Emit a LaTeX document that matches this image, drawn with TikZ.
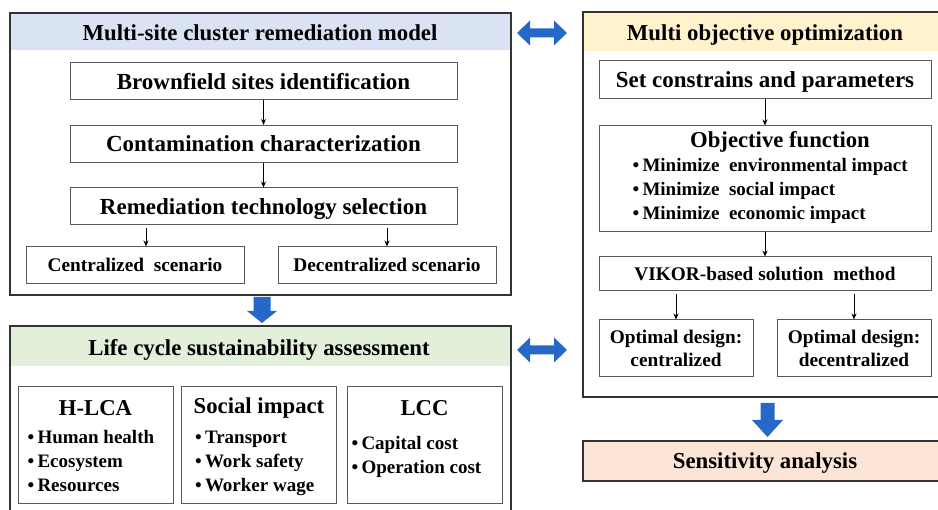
\documentclass[tikz,border=0pt]{standalone}
\usepackage{fontspec}
\setmainfont{Liberation Serif}
\usetikzlibrary{positioning, calc, arrows.meta}
\definecolor{bandblue}{RGB}{218,227,243}
\definecolor{bandorange}{RGB}{255,242,204}
\definecolor{bandgreen}{RGB}{226,239,218}
\definecolor{bandpeach}{RGB}{252,228,214}
\definecolor{arrowblue}{RGB}{38,104,200}

\begin{document}
\begin{tikzpicture}[x=1pt, y=-1pt,
    outer/.style={draw=black!80, line width=1.5pt},
    stepbox/.style={draw=black!65, line width=1pt, fill=white, inner sep=0pt,
        font=\bfseries\fontsize{23}{25}\selectfont, text height=18pt, text depth=2pt},
    smallbox/.style={draw=black!65, line width=1pt, fill=white, inner sep=0pt,
        font=\bfseries\fontsize{19.3}{23}\selectfont},
    oneline/.style={text height=15pt, text depth=2pt},
    headtext/.style={font=\bfseries\fontsize{22.8}{25}\selectfont, text height=18pt, text depth=2pt},
    subhead/.style={font=\bfseries\fontsize{22.7}{25}\selectfont, inner sep=0pt},
    bullets/.style={font=\bfseries\fontsize{19}{24}\selectfont, align=left, inner sep=0pt},
    arr/.style={-{Stealth[length=6pt,width=5pt]}, line width=0.8pt},
    blockarrow/.style={fill=arrowblue}]
    \useasboundingbox (0,0) rectangle (938,510);

    % Multi-site cluster remediation model
    \fill[bandblue] (10,13) rectangle (511,50);
    \draw[outer] (10,13) rectangle (511,295);
    \node[headtext] (modtitle) at (260,33) {Multi-site cluster remediation model};
    \node[stepbox, minimum width=387, minimum height=37] (brown) at (263.5,81.5) {Brownfield sites identification};
    \node[stepbox, minimum width=387, minimum height=37] (contam) at (263.5,144) {Contamination characterization};
    \node[stepbox, minimum width=387, minimum height=37] (tech) at (263.5,206.5) {Remediation technology selection};
    \node[smallbox, oneline, minimum width=218, minimum height=37] (cent) at (135,265.5) {Centralized\ \ scenario};
    \node[smallbox, oneline, minimum width=218, minimum height=37] (decent) at (387,265.5) {Decentralized scenario};
    \draw[arr] (brown) -- (contam);
    \draw[arr] (contam) -- (tech);
    \draw[arr] ([xshift=11pt,yshift=-3pt]tech.south -| cent.north) -- ([xshift=11pt]cent.north);
    \draw[arr] ([yshift=-3pt]tech.south -| decent.north) -- (decent.north);

    % Multi objective optimization
    \fill[bandorange] (583,12) rectangle (945,51);
    \draw[outer] (583,12) rectangle (945,397);
    \node[headtext] (opttitle) at (765,33) {Multi objective optimization};
    \node[stepbox, minimum width=332, minimum height=38] (cons) at (765,80) {Set constrains and parameters};
    \node[smallbox, minimum width=332, minimum height=106] (obj) at (765,179) {};
    \node[subhead, below=6pt of obj.north, xshift=15pt] (objtitle) {Objective function};
    \node[bullets, anchor=north west] (objlist) at ([xshift=34pt,yshift=-33pt]obj.north west)
        {\textbullet\,Minimize\ \ environmental impact\\ \textbullet\,Minimize\ \ social impact\\ \textbullet\,Minimize\ \ economic impact};
    \node[smallbox, oneline, minimum width=332, minimum height=34] (vikor) at (765,274) {VIKOR-based solution\ \ method};
    \node[smallbox, minimum width=154, minimum height=57, align=center] (optc) at (676,348.5) {Optimal design:\\centralized};
    \node[smallbox, minimum width=154, minimum height=57, align=center] (optd) at (854,348.5) {Optimal design:\\decentralized};
    \draw[arr] (cons) -- (obj);
    \draw[arr] (obj) -- (vikor);
    \draw[arr] ([yshift=-3pt]vikor.south -| optc.north) -- (optc.north);
    \draw[arr] ([yshift=-3pt]vikor.south -| optd.north) -- (optd.north);

    % Sensitivity analysis
    \node[draw=black!80, line width=1.5pt, fill=bandpeach, minimum width=362, minimum height=40,
        inner sep=0pt] (sens) at (764,461) {};
    \node[headtext] (senstitle) at (765,461) {Sensitivity analysis};

    % Life cycle sustainability assessment
    \fill[bandgreen] (10,326) rectangle (511,366);
    \draw[outer] (10,326) rectangle (511,520);
    \node[headtext] (lcsatitle) at (259,348) {Life cycle sustainability assessment};
    \foreach \name/\x in {hlca/95.5, soc/259, lcc/424.5}
        \node[smallbox, minimum width=155, minimum height=117] (\name) at (\x,445.5) {};
    \node[subhead] (hlcatitle) at (hlca.center |- 0,408) {H-LCA};
    \node[subhead] (soctitle) at (soc.center |- 0,408) {Social impact};
    \node[subhead] (lcctitle) at (lcc.center |- 0,408) {LCC};
    \node[bullets, anchor=north west] (hlcalist) at ([xshift=10pt,yshift=-44pt]hlca.north west)
        {\textbullet\,Human health\\ \textbullet\,Ecosystem\\ \textbullet\,Resources};
    \node[bullets, anchor=north west] (soclist) at ([xshift=14pt,yshift=-44pt]soc.north west)
        {\textbullet\,Transport\\ \textbullet\,Work safety\\ \textbullet\,Worker wage};
    \node[bullets, anchor=north west] (lcclist) at ([xshift=5pt,yshift=-50pt]lcc.north west)
        {\textbullet\,Capital cost\\ \textbullet\,Operation cost};

    % Block arrows
    \foreach \y in {33, 350}
        \fill[blockarrow] (517,\y) -- ++(13,-12.5) -- ++(0,8) -- ++(24,0) -- ++(0,-8)
            -- ++(13,12.5) -- ++(-13,12.5) -- ++(0,-8) -- ++(-24,0) -- ++(0,8) -- cycle;
    \foreach \x/\ya/\yb/\yc/\s/\h in {262/297/311/323/8.5/15, 767.5/403/420/437/7/15.5}
        \fill[blockarrow] (\x-\s,\ya) -- (\x+\s,\ya) -- (\x+\s,\yb) -- (\x+\h,\yb)
            -- (\x,\yc) -- (\x-\h,\yb) -- (\x-\s,\yb) -- cycle;
\end{tikzpicture}
\end{document}
